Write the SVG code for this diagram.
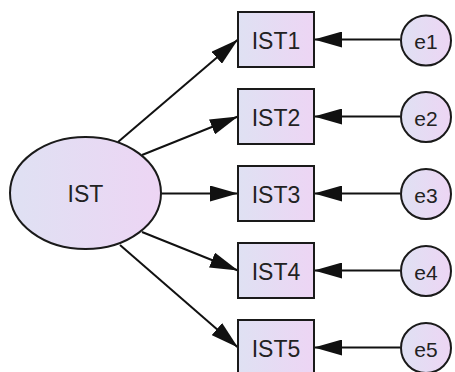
<svg xmlns="http://www.w3.org/2000/svg" width="455" height="372" viewBox="0 0 455 372">
<style>
.shape{stroke:#1a1a1a;stroke-width:2;fill:url(#g)}
.lbl{font-family:"Liberation Sans",Arial,sans-serif;font-size:23px;fill:#222;text-anchor:middle;dominant-baseline:central}
.elbl{font-family:"Liberation Sans",Arial,sans-serif;font-size:21px;fill:#222;text-anchor:middle;dominant-baseline:central}
.conn line{stroke:#111;stroke-width:2;marker-end:url(#arr)}
</style>
<defs>
<linearGradient id="g" x1="0" y1="0" x2="1" y2="0">
<stop offset="0" stop-color="#dfe1f3"/>
<stop offset="1" stop-color="#edd5f4"/>
</linearGradient>
<marker id="arr" viewBox="0 0 28 16" refX="28" refY="8" markerWidth="28" markerHeight="16" markerUnits="userSpaceOnUse" orient="auto">
<path d="M0,0 L28,8 L0,16 z" fill="#111"/>
</marker>
</defs>
<rect width="455" height="372" fill="#fff"/>
<g class="conn">
<line x1="118" y1="142" x2="238" y2="39.5"/>
<line x1="142" y1="155" x2="238" y2="116.5"/>
<line x1="161" y1="193.5" x2="238" y2="193.5"/>
<line x1="142" y1="232" x2="238" y2="270.5"/>
<line x1="120" y1="245" x2="238" y2="347.5"/>
<line x1="400" y1="39.5" x2="314" y2="39.5"/>
<line x1="400" y1="116.5" x2="314" y2="116.5"/>
<line x1="400" y1="193.5" x2="314" y2="193.5"/>
<line x1="400" y1="270.5" x2="314" y2="270.5"/>
<line x1="400" y1="347.5" x2="314" y2="347.5"/>
</g>
<g id="IST"><ellipse class="shape" cx="85.5" cy="193" rx="75.5" ry="56"/><text class="lbl" x="85.5" y="194">IST</text></g>
<g id="IST1"><rect class="shape" x="238" y="12" width="76" height="55"/><text class="lbl" x="276" y="40.5">IST1</text></g>
<g id="IST2"><rect class="shape" x="238" y="89" width="76" height="55"/><text class="lbl" x="276" y="117.5">IST2</text></g>
<g id="IST3"><rect class="shape" x="238" y="166" width="76" height="55"/><text class="lbl" x="276" y="194.5">IST3</text></g>
<g id="IST4"><rect class="shape" x="238" y="243" width="76" height="55"/><text class="lbl" x="276" y="271.5">IST4</text></g>
<g id="IST5"><rect class="shape" x="238" y="320" width="76" height="55"/><text class="lbl" x="276" y="348.5">IST5</text></g>
<g id="e1"><circle class="shape" cx="426" cy="40.5" r="25"/><text class="elbl" x="426" y="41.5">e1</text></g>
<g id="e2"><circle class="shape" cx="426" cy="117" r="25"/><text class="elbl" x="426" y="118">e2</text></g>
<g id="e3"><circle class="shape" cx="426" cy="194" r="25"/><text class="elbl" x="426" y="195">e3</text></g>
<g id="e4"><circle class="shape" cx="426" cy="271" r="25"/><text class="elbl" x="426" y="272">e4</text></g>
<g id="e5"><circle class="shape" cx="426" cy="348" r="25"/><text class="elbl" x="426" y="349">e5</text></g>
</svg>
